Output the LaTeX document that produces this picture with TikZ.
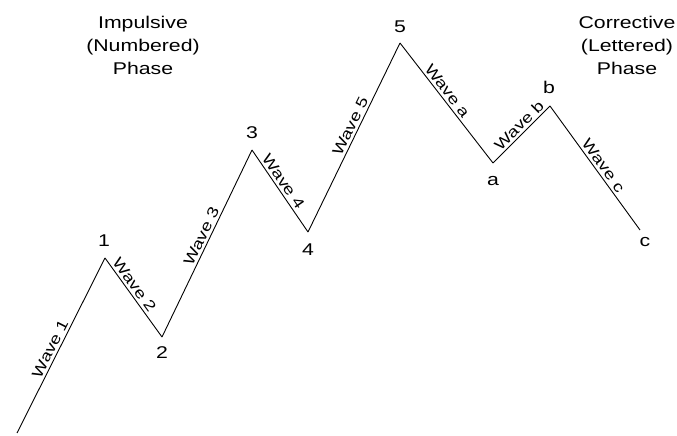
\documentclass[tikz,border=0pt]{standalone}
\usepackage{fontspec}
\setmainfont{Liberation Sans}
\newfontfamily\widefont[FakeStretch=1.25]{Liberation Sans}
\begin{document}
\begin{tikzpicture}[x=1pt,y=1pt,
  waveline/.style={line width=0.9pt, black},
  title/.style={font=\widefont\fontsize{17}{23}\selectfont, align=center, inner sep=0pt},
  ptlabel/.style={font=\widefont\fontsize{17}{17}\selectfont, inner sep=0pt},
  wavelabel/.style={font=\widefont\fontsize{15}{15}\selectfont, inner sep=0pt, sloped, above=2.5pt}]
\useasboundingbox (0,0) rectangle (677,436);
\coordinate (p0) at (17,3);
\coordinate (n1) at (105,178);
\coordinate (n2) at (162,99);
\coordinate (n3) at (252,286);
\coordinate (n4) at (308,204);
\coordinate (n5) at (400,393);
\coordinate (na) at (493,273);
\coordinate (nb) at (550,330);
\coordinate (nc) at (640,206);
\draw[waveline] (p0) -- node[wavelabel, pos=0.46] {Wave 1} (n1);
\draw[waveline] (n1) -- node[wavelabel, pos=0.40] {Wave 2} (n2);
\draw[waveline] (n2) -- node[wavelabel, pos=0.52] {Wave 3} (n3);
\draw[waveline] (n3) -- node[wavelabel, pos=0.44] {Wave 4} (n4);
\draw[waveline] (n4) -- node[wavelabel, pos=0.54] {Wave 5} (n5);
\draw[waveline] (n5) -- node[wavelabel, pos=0.44] {Wave a} (na);
\draw[waveline] (na) -- node[wavelabel, pos=0.56] {Wave b} (nb);
\draw[waveline] (nb) -- node[wavelabel, pos=0.52] {Wave c} (nc);
\node[ptlabel] (l1) at (104,195) {1};
\node[ptlabel] (l2) at (162,83) {2};
\node[ptlabel] (l3) at (252,303) {3};
\node[ptlabel] (l4) at (308,186) {4};
\node[ptlabel] (l5) at (400,409) {5};
\node[ptlabel] (la) at (493,255) {a};
\node[ptlabel] (lb) at (549,349) {b};
\node[ptlabel] (lc) at (645,194) {c};
\node[title] (imp) at (143,391) {Impulsive\\(Numbered)\\Phase};
\node[title] (cor) at (627,391) {Corrective\\(Lettered)\\Phase};
\end{tikzpicture}
\end{document}
